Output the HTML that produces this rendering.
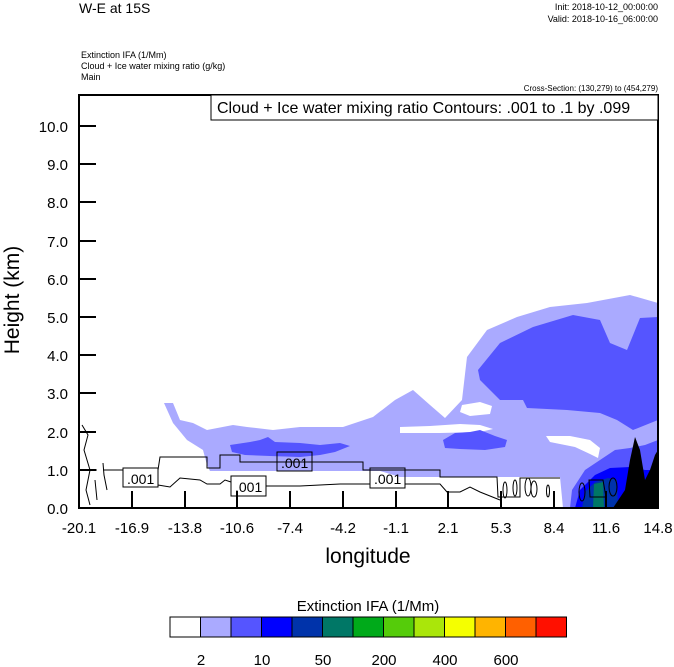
<!DOCTYPE html>
<html><head><style>
body{margin:0;background:#fff;width:674px;height:667px;overflow:hidden}
svg{display:block}
text{font-family:"Liberation Sans",sans-serif;fill:#000}
</style></head><body>
<svg width="674" height="667" viewBox="0 0 674 667" xmlns="http://www.w3.org/2000/svg">
<text x="79" y="13" font-size="14">W-E at 15S</text>
<text x="658" y="10" font-size="9" text-anchor="end">Init: 2018-10-12_00:00:00</text>
<text x="658" y="22" font-size="9" text-anchor="end">Valid: 2018-10-16_06:00:00</text>
<text x="81" y="58" font-size="9">Extinction IFA   (1/Mm)</text>
<text x="81" y="69" font-size="9">Cloud + Ice water mixing ratio   (g/kg)</text>
<text x="81" y="80" font-size="9">Main</text>
<text x="658" y="91" font-size="8" text-anchor="end">Cross-Section: (130,279) to (454,279)</text>

<!-- shading -->
<g>
<path fill="#aaaaff" d="M164,403 L173,403 L180,420 L193,423 L207,430 L233,425 L247,427 L273,430 L300,427 L343,427 L373,417 L395,400 L413,390 L430,405 L445,418 L462,400 L467,357 L487,330 L517,317 L550,307 L587,303 L630,295 L658,303 L658,508 L613,508 L563,508 L560,477 L500,477 L400,477 L380,471 L210,471 L207,465 L203,450 L187,440 L173,423 Z"/>
<path fill="#fff" d="M400,427 L430,426 L460,424 L480,425 L493,429 L480,432 L440,433 L400,433 Z"/>
<path fill="#fff" d="M462,405 L480,402 L492,406 L490,414 L470,416 L460,412 Z"/>
<path fill="#fff" d="M546,436 L570,436 L590,440 L600,448 L598,458 L590,454 L575,447 L550,442 Z"/>
<path fill="#5555ff" d="M478,370 L500,343 L533,327 L573,315 L600,320 L610,343 L627,350 L640,318 L658,317 L658,420 L633,430 L617,420 L600,413 L567,410 L527,408 L523,400 L500,400 L480,380 Z"/>
<path fill="#5555ff" d="M443,440 L455,433 L470,432 L480,430 L495,436 L507,440 L505,447 L485,450 L460,449 L445,448 Z"/>
<path fill="#5555ff" d="M230,445 L250,442 L260,440 L268,437 L275,442 L300,443 L320,445 L340,443 L350,446 L335,452 L320,455 L300,457 L270,456 L245,455 L232,452 Z"/>
<path fill="#5555ff" d="M570,508 L572,490 L585,470 L600,460 L615,450 L630,448 L645,445 L658,440 L658,508 Z"/>
<path fill="#0000ff" d="M575,508 L580,490 L595,475 L610,468 L630,467 L645,470 L658,470 L658,508 Z"/>
<path fill="#0033aa" d="M582,508 L585,492 L595,482 L608,478 L617,480 L618,508 Z"/>
<path fill="#007766" d="M593,508 L594,484 L603,482 L604,508 Z"/>
<path fill="#000" d="M613,508 L625,490 L630,460 L635,437 L640,450 L645,480 L650,470 L655,455 L658,450 L658,508 Z"/>
</g>

<!-- contours -->
<g fill="none" stroke="#000" stroke-width="1">
<path d="M79,470 L97,470 M103,463 L104,475 L107,490 M103,470 L123,470"/>
<path d="M158,470 L160,457 L207,457 L207,468 L220,468 L220,455 L240,455 L240,462 L363,462 L363,470 L440,470 L440,477 L497,477 L498,497 L520,497 L520,478 L560,478"/>
<path d="M158,485 L170,487 L180,478 L200,480 L207,484 L220,484 L225,480 L231,482 M266,486 L300,486 L340,484 L370,484 M405,484 L440,484 L447,492 L460,492 L470,487 L480,492 L500,500"/>
<path d="M82,425 L88,435 L84,450 L90,470 L86,490 L90,505 M95,480 L97,500"/>
<ellipse cx="505" cy="490" rx="2" ry="8"/><ellipse cx="515" cy="488" rx="2" ry="8"/><ellipse cx="528" cy="487" rx="3" ry="9"/><ellipse cx="534" cy="489" rx="3" ry="8"/><ellipse cx="548" cy="491" rx="1.5" ry="6"/>
<ellipse cx="582" cy="492" rx="3" ry="9"/><path d="M589,480 L603,480 L606,497 L590,497 Z"/><ellipse cx="613" cy="487" rx="4" ry="9"/>
</g>
<g font-size="14">
<rect x="123" y="468" width="35" height="19" fill="none" stroke="#000"/><text x="127" y="484">.001</text>
<rect x="231" y="476" width="35" height="20" fill="none" stroke="#000"/><text x="235" y="492">.001</text>
<rect x="277" y="452" width="35" height="19" fill="none" stroke="#000"/><text x="281" y="468">.001</text>
<rect x="370" y="468" width="35" height="20" fill="none" stroke="#000"/><text x="374" y="484">.001</text>
</g>

<!-- frame -->
<rect x="79" y="95" width="579" height="413" fill="none" stroke="#000" stroke-width="2"/>
<rect x="211" y="95" width="447" height="25" fill="#fff" stroke="#000" stroke-width="1"/>
<text x="217" y="113" font-size="16">Cloud + Ice water mixing ratio Contours: .001 to .1 by .099</text>

<g stroke="#000" stroke-width="2">
<line x1="79" y1="470" x2="96" y2="470"/><line x1="79" y1="432" x2="96" y2="432"/><line x1="79" y1="393" x2="96" y2="393"/><line x1="79" y1="355" x2="96" y2="355"/><line x1="79" y1="317" x2="96" y2="317"/><line x1="79" y1="279" x2="96" y2="279"/><line x1="79" y1="241" x2="96" y2="241"/><line x1="79" y1="202" x2="96" y2="202"/><line x1="79" y1="164" x2="96" y2="164"/><line x1="79" y1="126" x2="96" y2="126"/>
<line x1="132" y1="508" x2="132" y2="491"/><line x1="185" y1="508" x2="185" y2="491"/><line x1="237" y1="508" x2="237" y2="491"/><line x1="290" y1="508" x2="290" y2="491"/><line x1="343" y1="508" x2="343" y2="491"/><line x1="396" y1="508" x2="396" y2="491"/><line x1="448" y1="508" x2="448" y2="491"/><line x1="501" y1="508" x2="501" y2="491"/><line x1="554" y1="508" x2="554" y2="491"/><line x1="606" y1="508" x2="606" y2="491"/>
</g>
<g font-size="15" text-anchor="end">
<text x="68" y="514">0.0</text><text x="68" y="476">1.0</text><text x="68" y="438">2.0</text><text x="68" y="399">3.0</text><text x="68" y="361">4.0</text><text x="68" y="323">5.0</text><text x="68" y="285">6.0</text><text x="68" y="247">7.0</text><text x="68" y="208">8.0</text><text x="68" y="170">9.0</text><text x="68" y="132">10.0</text>
</g>
<g font-size="15" text-anchor="middle">
<text x="79" y="533">-20.1</text><text x="132" y="533">-16.9</text><text x="185" y="533">-13.8</text><text x="237" y="533">-10.6</text><text x="290" y="533">-7.4</text><text x="343" y="533">-4.2</text><text x="396" y="533">-1.1</text><text x="448" y="533">2.1</text><text x="501" y="533">5.3</text><text x="554" y="533">8.4</text><text x="606" y="533">11.6</text><text x="658" y="533">14.8</text>
</g>
<text x="368" y="563" font-size="21" text-anchor="middle">longitude</text>
<text transform="translate(19,300) rotate(-90)" font-size="21" text-anchor="middle">Height (km)</text>

<!-- colorbar -->
<text x="368" y="611" font-size="15" text-anchor="middle">Extinction IFA  (1/Mm)</text>
<g stroke="#000" stroke-width="1">
<rect x="170" y="617" width="30.5" height="20" fill="#ffffff"/>
<rect x="200.5" y="617" width="30.5" height="20" fill="#aaaaff"/>
<rect x="231" y="617" width="30.5" height="20" fill="#5555ff"/>
<rect x="261.5" y="617" width="30.5" height="20" fill="#0000ff"/>
<rect x="292" y="617" width="30.5" height="20" fill="#0033aa"/>
<rect x="322.5" y="617" width="30.5" height="20" fill="#007766"/>
<rect x="353" y="617" width="30.5" height="20" fill="#00aa1a"/>
<rect x="383.5" y="617" width="30.5" height="20" fill="#55cc0a"/>
<rect x="414" y="617" width="30.5" height="20" fill="#aae60a"/>
<rect x="444.5" y="617" width="30.5" height="20" fill="#f5ff00"/>
<rect x="475" y="617" width="30.5" height="20" fill="#ffb400"/>
<rect x="505.5" y="617" width="30.5" height="20" fill="#ff6000"/>
<rect x="536" y="617" width="30.5" height="20" fill="#ff1000"/>
</g>
<g font-size="15" text-anchor="middle">
<text x="201" y="665">2</text><text x="262" y="665">10</text><text x="323" y="665">50</text><text x="384" y="665">200</text><text x="445" y="665">400</text><text x="506" y="665">600</text>
</g>
</svg>
</body></html>
